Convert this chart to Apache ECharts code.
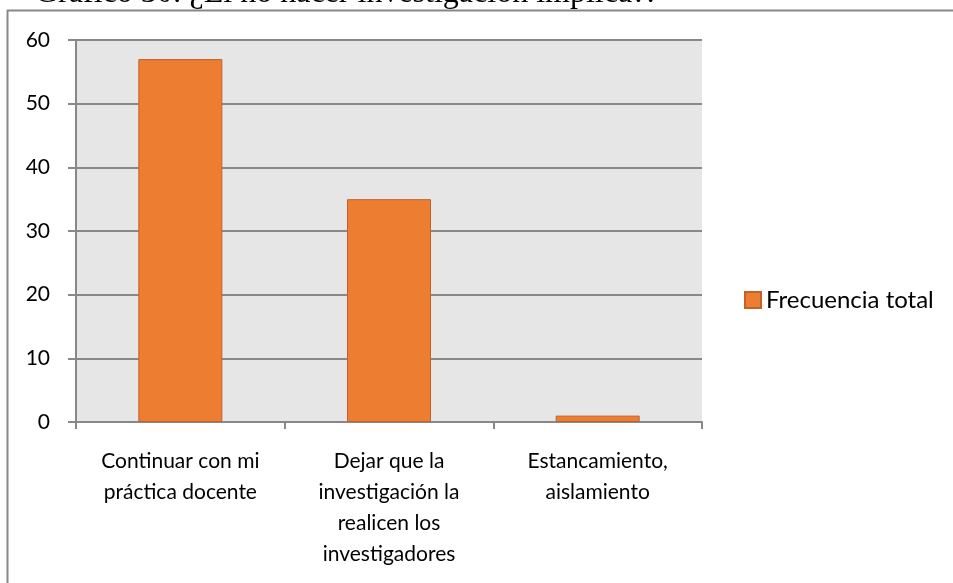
<!DOCTYPE html>
<html>
<head>
<meta charset="utf-8">
<script src="https://cdn.jsdelivr.net/npm/echarts@6/dist/echarts.min.js"></script>
<style>
  html, body { margin: 0; padding: 0; background: #fff; }
  #chart { width: 953px; height: 583px; }
</style>
</head>
<body>
<div id="chart"></div>
<script>
    // data
    var categories = [
        'Continuar con mi\npráctica docente',
        'Dejar que la\ninvestigación la\nrealicen los\ninvestigadores',
        'Estancamiento,\naislamiento'
    ];
    var frecuencia = [57, 35, 1];
    var seriesName = 'Frecuencia total';
    var titleText = 'Gráfico 30: ¿El no hacer investigación implica?:';

    var labelFont = 'Lato';

    var chartOption = {
        backgroundColor: '#ffffff',
        animation: false,
        grid: {
            left: 76,
            right: 251,
            top: 40,
            bottom: 161,
            show: true,
            backgroundColor: '#e6e6e6',
            borderWidth: 0
        },
        legend: {
            data: [seriesName],
            left: 739,
            top: 283,
            itemWidth: 16,
            itemHeight: 16,
            icon: 'rect',
            itemGap: 6,
            textStyle: {
                fontFamily: labelFont,
                fontSize: 24,
                color: '#000'
            }
        },
        graphic: [
            {
                type: 'text',
                left: 35,
                top: -22,
                style: {
                    text: titleText,
                    font: '32px "Liberation Serif"',
                    fill: '#000'
                }
            },
            {
                type: 'line',
                shape: { x1: 7, y1: 10.5, x2: 953, y2: 10.5 },
                style: { stroke: '#888888', lineWidth: 2 }
            },
            {
                type: 'line',
                shape: { x1: 7.5, y1: 10, x2: 7.5, y2: 583 },
                style: { stroke: '#888888', lineWidth: 2 }
            }
        ],
        xAxis: [
            {
                type: 'category',
                data: categories,
                axisLine: { show: true, lineStyle: { color: '#888888', width: 2 } },
                axisTick: { show: true, alignWithLabel: false, length: 7, lineStyle: { color: '#888888', width: 2 } },
                axisLabel: {
                    interval: 0,
                    margin: 24,
                    fontFamily: labelFont,
                    fontSize: 21,
                    lineHeight: 31,
                    color: '#000',
                    align: 'center'
                }
            }
        ],
        yAxis: [
            {
                type: 'value',
                min: 0,
                max: 60,
                interval: 10,
                axisLine: { show: true, lineStyle: { color: '#888888', width: 2 } },
                axisTick: { show: true, length: 8, lineStyle: { color: '#888888', width: 2 } },
                splitLine: { show: true, lineStyle: { color: '#888888', width: 2 } },
                axisLabel: {
                    margin: 26,
                    fontFamily: labelFont,
                    fontSize: 21,
                    color: '#000'
                }
            }
        ],
        series: [
            {
                name: seriesName,
                type: 'bar',
                data: frecuencia,
                barWidth: 84,
                itemStyle: {
                    color: '#ED7D31',
                    borderColor: '#C0622A',
                    borderWidth: 1
                }
            }
        ]
    };

    var myChart = echarts.init(document.getElementById('chart'), null, { renderer: 'canvas' });
    myChart.setOption(chartOption);
</script>
</body>
</html>
